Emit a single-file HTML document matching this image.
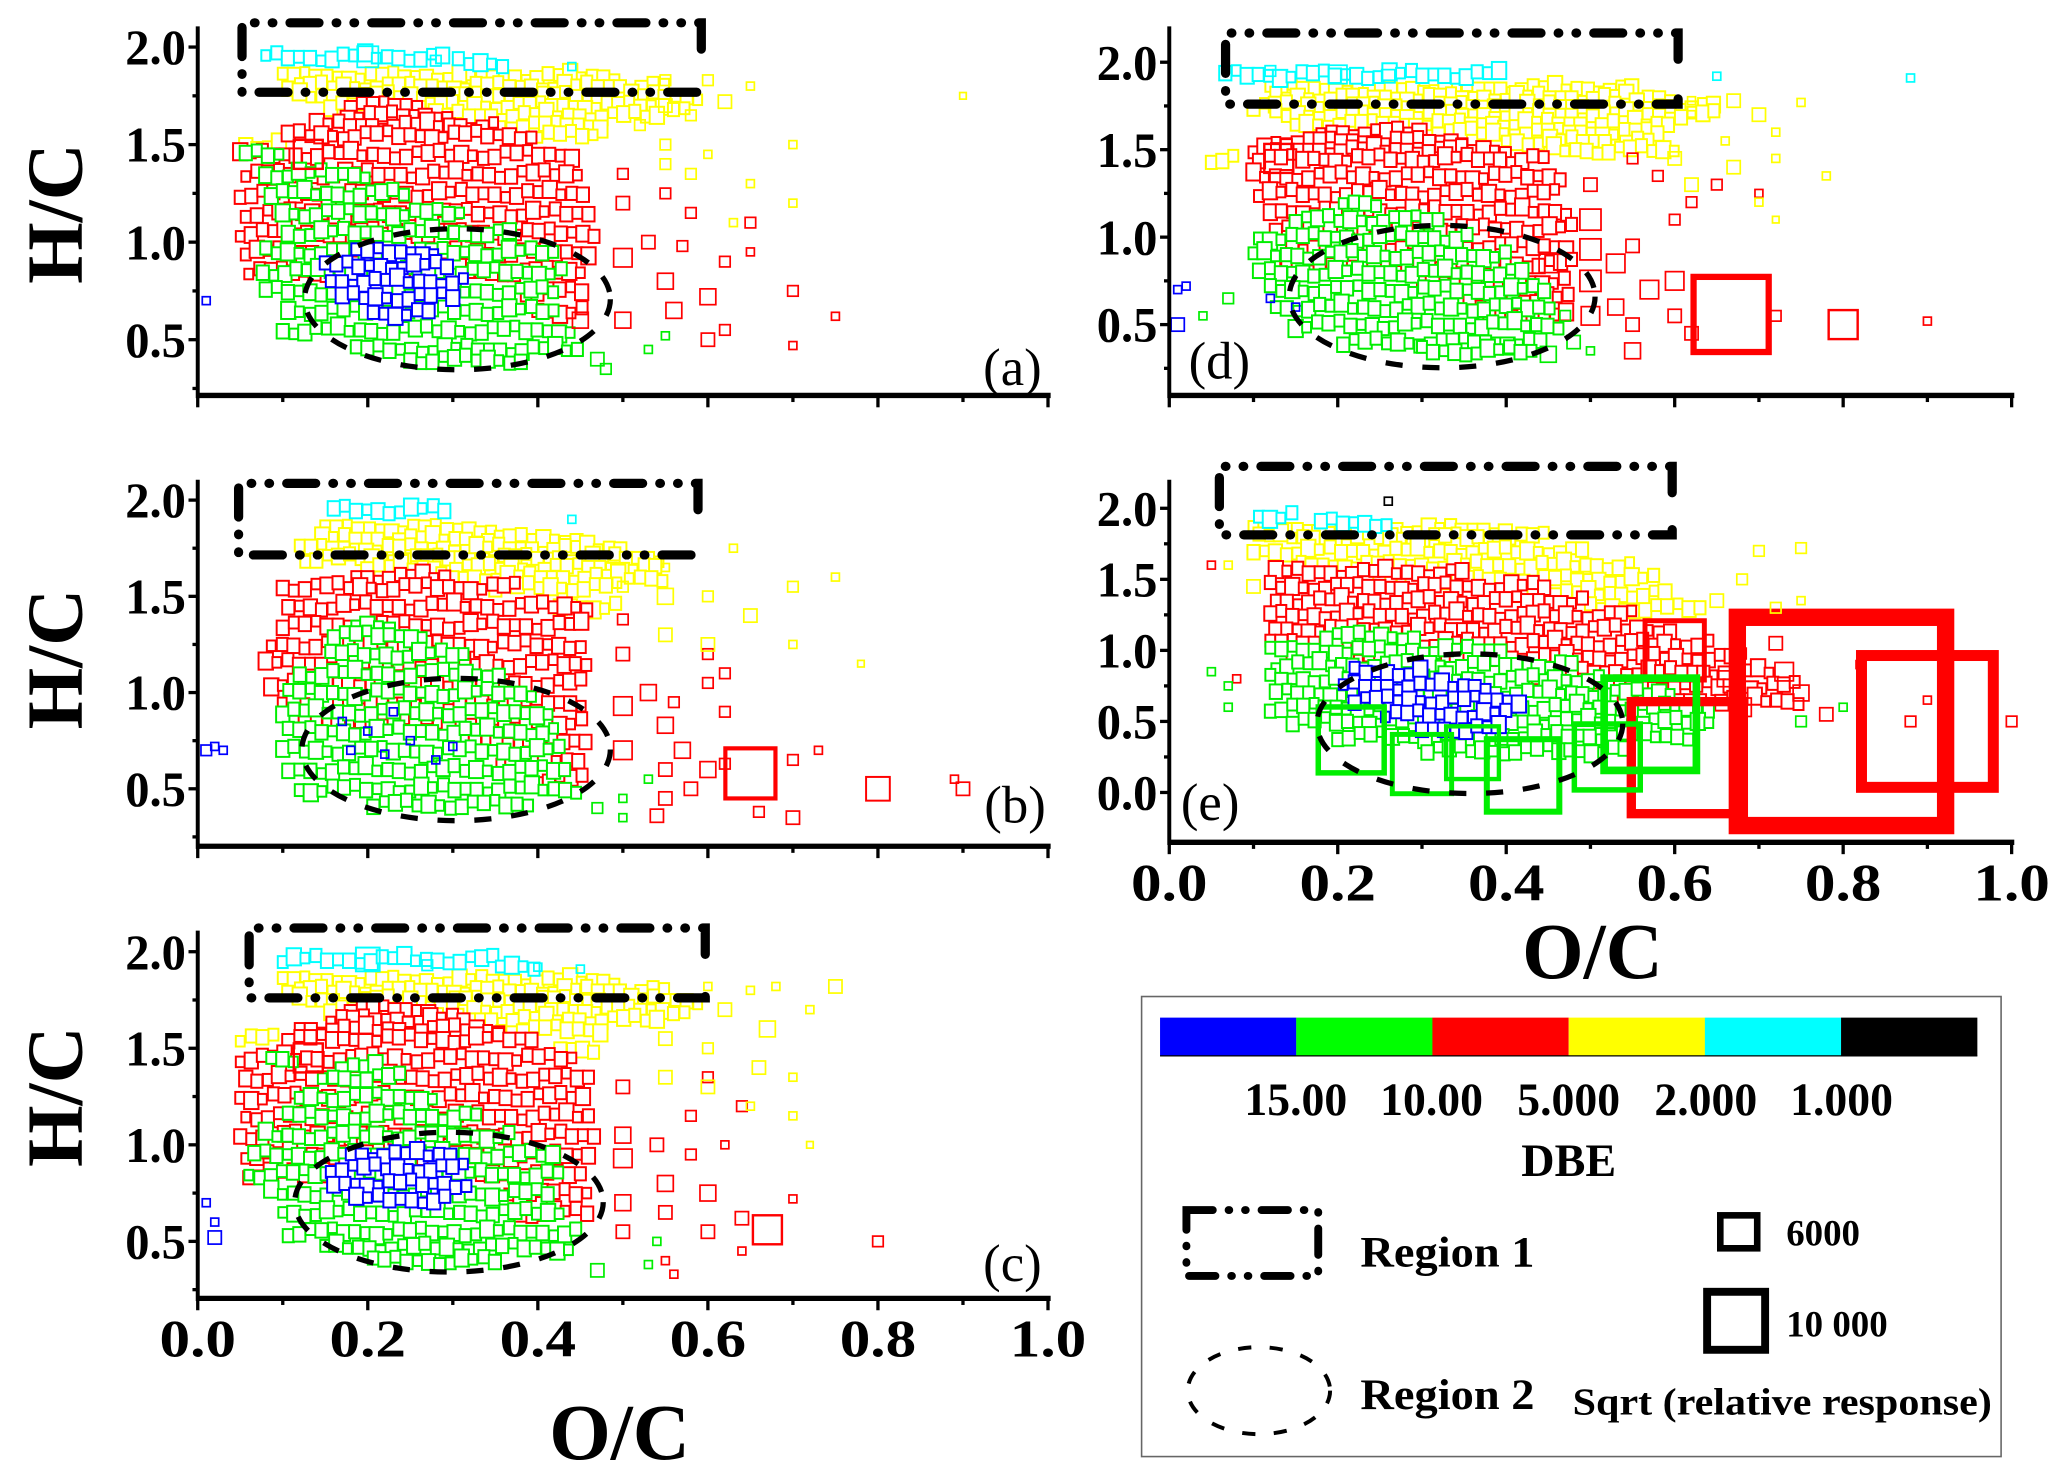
<!DOCTYPE html>
<html><head><meta charset="utf-8"><style>
html,body{margin:0;padding:0;background:#fff;width:2067px;height:1477px;overflow:hidden}
svg{display:block}
text{font-family:"Liberation Serif",serif;font-weight:bold;fill:#000}
</style></head><body>
<svg id="fig" width="2067" height="1477" viewBox="0 0 1568 1120.5" preserveAspectRatio="none" xmlns="http://www.w3.org/2000/svg">
<g id="legend">
<rect x="866" y="756" width="652" height="349" fill="#fff" stroke="#666" stroke-width="1.2"/>
<rect x="880" y="772" width="103.4" height="29" fill="#0000ff"/>
<rect x="983.3" y="772" width="103.4" height="29" fill="#00ff00"/>
<rect x="1086.6" y="772" width="103.4" height="29" fill="#ff0000"/>
<rect x="1190" y="772" width="103.4" height="29" fill="#ffff00"/>
<rect x="1293.3" y="772" width="103.4" height="29" fill="#00ffff"/>
<rect x="1396.6" y="772" width="103.4" height="29" fill="#000"/>
<line x1="880" y1="801" x2="1500" y2="801" stroke="#000" stroke-width="1"/>
<g font-size="35" text-anchor="middle">
<text x="983" y="846" textLength="78" lengthAdjust="spacingAndGlyphs">15.00</text>
<text x="1086" y="846" textLength="78" lengthAdjust="spacingAndGlyphs">10.00</text>
<text x="1190" y="846" textLength="78" lengthAdjust="spacingAndGlyphs">5.000</text>
<text x="1294" y="846" textLength="78" lengthAdjust="spacingAndGlyphs">2.000</text>
<text x="1397" y="846" textLength="78" lengthAdjust="spacingAndGlyphs">1.000</text>
<text x="1190" y="892">DBE</text>
</g>
<rect x="900" y="918" width="100" height="50" fill="none" stroke="#000" stroke-width="6" stroke-linecap="round" stroke-dasharray="20 12 0.5 12 0.5 12"/>
<text x="1032" y="961" font-size="33" textLength="132" lengthAdjust="spacingAndGlyphs">Region 1</text>
<ellipse cx="955" cy="1055" rx="54" ry="33" fill="none" stroke="#000" stroke-width="3" stroke-dasharray="10 14"/>
<text x="1032" y="1069" font-size="33" textLength="132" lengthAdjust="spacingAndGlyphs">Region 2</text>
<rect x="1305" y="922" width="28" height="25" fill="none" stroke="#000" stroke-width="5"/>
<text x="1355" y="945" font-size="28">6000</text>
<rect x="1295" y="980" width="44" height="44" fill="none" stroke="#000" stroke-width="6"/>
<text x="1355" y="1014" font-size="28">10 000</text>
<text x="1193" y="1073" font-size="29" textLength="318" lengthAdjust="spacingAndGlyphs">Sqrt (relative  response)</text>
</g>
<text font-size="60" text-anchor="middle" transform="translate(62,162) rotate(-90)">H/C</text>
<text font-size="60" text-anchor="middle" transform="translate(62,500) rotate(-90)">H/C</text>
<text font-size="60" text-anchor="middle" transform="translate(62,832) rotate(-90)">H/C</text>
<text font-size="60" text-anchor="middle" x="470" y="1107">O/C</text>
<text font-size="60" text-anchor="middle" x="1208" y="742">O/C</text>
</svg>
<script>
// Cluster rows: [H/C, O/C start, O/C end, DBE class]  classes: 0 blue,1 green,2 red,3 yellow,4 cyan,5 black
const rowsA=[[1.85,0.1,0.5,3],[1.8,0.1,0.55,3],[1.75,0.12,0.6,3],[1.7,0.15,0.58,3],[1.65,0.28,0.55,3],[1.6,0.35,0.48,3],[1.55,0.4,0.47,3],[1.5,0.05,0.1,3],
[1.95,0.08,0.3,4],[1.92,0.3,0.36,4],
[1.7,0.18,0.26,2],[1.65,0.17,0.3,2],[1.6,0.14,0.35,2],[1.55,0.1,0.4,2],[1.45,0.05,0.45,2],[1.35,0.05,0.45,2],[1.25,0.05,0.46,2],[1.15,0.05,0.46,2],[1.05,0.05,0.47,2],[0.95,0.05,0.47,2],[0.85,0.06,0.46,2],[0.75,0.38,0.46,2],[0.65,0.4,0.46,2],
[1.45,0.05,0.1,1],[1.35,0.08,0.2,1],[1.25,0.08,0.25,1],[1.15,0.1,0.32,1],[1.05,0.1,0.37,1],[0.95,0.08,0.42,1],[0.85,0.07,0.43,1],[0.75,0.08,0.42,1],[0.65,0.1,0.43,1],[0.55,0.1,0.45,1],[0.45,0.18,0.45,1],[0.4,0.25,0.38,1],
[0.95,0.18,0.28,0],[0.88,0.15,0.3,0],[0.8,0.15,0.32,0],[0.72,0.17,0.3,0],[0.64,0.2,0.28,0]];
const rowsB=[[1.85,0.15,0.35,3],[1.8,0.14,0.45,3],[1.75,0.12,0.5,3],[1.7,0.12,0.55,3],[1.65,0.2,0.55,3],[1.6,0.28,0.55,3],[1.55,0.35,0.5,3],[1.45,0.42,0.5,3],
[1.95,0.16,0.3,4],
[1.6,0.18,0.3,2],[1.55,0.1,0.38,2],[1.45,0.1,0.46,2],[1.35,0.1,0.46,2],[1.25,0.08,0.46,2],[1.15,0.08,0.46,2],[1.05,0.08,0.46,2],[0.95,0.1,0.46,2],[0.85,0.12,0.46,2],[0.75,0.3,0.46,2],[0.65,0.35,0.46,2],[0.55,0.4,0.46,2],
[1.35,0.18,0.23,1],[1.3,0.16,0.27,1],[1.2,0.15,0.32,1],[1.1,0.12,0.36,1],[1.0,0.1,0.4,1],[0.9,0.1,0.42,1],[0.8,0.1,0.42,1],[0.7,0.1,0.43,1],[0.6,0.1,0.44,1],[0.5,0.12,0.45,1],[0.42,0.2,0.4,1]];
const rowsC=[[1.85,0.1,0.5,3],[1.8,0.1,0.55,3],[1.75,0.12,0.6,3],[1.7,0.15,0.58,3],[1.65,0.28,0.55,3],[1.6,0.35,0.48,3],[1.55,0.05,0.1,3],[1.5,0.42,0.47,3],
[1.96,0.1,0.35,4],[1.93,0.35,0.4,4],
[1.7,0.18,0.28,2],[1.65,0.15,0.32,2],[1.6,0.12,0.36,2],[1.55,0.1,0.4,2],[1.45,0.05,0.45,2],[1.35,0.05,0.46,2],[1.25,0.05,0.46,2],[1.15,0.05,0.46,2],[1.05,0.05,0.47,2],[0.95,0.05,0.47,2],[0.85,0.06,0.46,2],[0.75,0.36,0.46,2],[0.65,0.38,0.46,2],
[1.45,0.08,0.12,1],[1.4,0.17,0.22,1],[1.35,0.14,0.24,1],[1.25,0.12,0.28,1],[1.15,0.1,0.33,1],[1.05,0.08,0.37,1],[0.95,0.06,0.42,1],[0.85,0.06,0.43,1],[0.75,0.08,0.42,1],[0.65,0.1,0.43,1],[0.55,0.1,0.45,1],[0.47,0.15,0.44,1],[0.4,0.2,0.36,1],
[0.95,0.18,0.3,0],[0.88,0.15,0.32,0],[0.8,0.16,0.32,0],[0.72,0.18,0.3,0]];
const rowsD=[[1.85,0.12,0.55,3],[1.8,0.12,0.6,3],[1.75,0.1,0.65,3],[1.7,0.12,0.65,3],[1.65,0.15,0.6,3],[1.6,0.3,0.58,3],[1.55,0.4,0.58,3],[1.5,0.45,0.6,3],[1.45,0.05,0.08,3],
[1.93,0.06,0.4,4],
[1.6,0.18,0.3,2],[1.55,0.12,0.35,2],[1.5,0.1,0.4,2],[1.45,0.1,0.45,2],[1.35,0.1,0.47,2],[1.25,0.1,0.47,2],[1.15,0.12,0.48,2],[1.05,0.12,0.48,2],[0.95,0.12,0.48,2],[0.85,0.12,0.48,2],[0.75,0.3,0.48,2],[0.65,0.35,0.48,2],[0.55,0.38,0.48,2],
[1.2,0.2,0.25,1],[1.1,0.15,0.32,1],[1.0,0.1,0.36,1],[0.9,0.1,0.4,1],[0.8,0.1,0.43,1],[0.7,0.12,0.45,1],[0.6,0.12,0.46,1],[0.5,0.15,0.47,1],[0.4,0.2,0.45,1],[0.35,0.3,0.43,1]];
const rowsE=[[1.85,0.1,0.4,3],[1.8,0.1,0.45,3],[1.7,0.1,0.5,3],[1.6,0.15,0.55,3],[1.5,0.25,0.58,3],[1.4,0.4,0.6,3],[1.3,0.5,0.63,3],
[1.95,0.1,0.15,4],[1.9,0.18,0.27,4],
[1.55,0.12,0.35,2],[1.45,0.12,0.45,2],[1.35,0.12,0.5,2],[1.25,0.12,0.55,2],[1.15,0.12,0.6,2],[1.05,0.12,0.65,2],[0.95,0.14,0.68,2],[0.85,0.4,0.72,2],[0.75,0.45,0.75,2],[0.65,0.5,0.75,2],
[1.1,0.18,0.3,1],[1.0,0.12,0.4,1],[0.9,0.12,0.48,1],[0.8,0.12,0.52,1],[0.7,0.12,0.6,1],[0.6,0.12,0.65,1],[0.5,0.14,0.65,1],[0.4,0.2,0.62,1],[0.3,0.3,0.55,1],
[0.85,0.22,0.3,0],[0.75,0.2,0.38,0],[0.65,0.22,0.42,0],[0.55,0.25,0.4,0],[0.45,0.3,0.4,0]];
// Individual formulas: [O/C, H/C, sqrt response (px), DBE class]
const ptsA=[[0.55,1.83,8,3],[0.6,1.83,8,3],[0.65,1.8,6,3],[0.9,1.75,5,3],[0.62,1.72,10,3],[0.55,1.7,10,3],[0.58,1.65,8,3],[0.52,1.6,8,3],[0.55,1.5,8,3],[0.6,1.45,6,3],[0.58,1.35,8,3],[0.65,1.3,6,3],[0.7,1.5,6,3],[0.7,1.2,6,3],[0.63,1.1,6,3],[0.55,1.4,8,3],
[0.13,1.45,22,2],[0.5,0.92,14,2],[0.5,0.6,12,2],[0.5,1.2,10,2],[0.5,1.35,8,2],[0.53,1.0,10,2],[0.55,0.8,12,2],[0.56,0.65,12,2],[0.6,0.72,12,2],[0.6,0.5,10,2],[0.62,0.9,8,2],[0.65,1.1,8,2],[0.7,0.75,8,2],[0.75,0.62,6,2],[0.7,0.47,6,2],[0.58,1.15,8,2],[0.62,0.55,8,2],[0.65,0.95,6,2],[0.57,0.98,8,2],[0.55,1.25,8,2],[0.45,0.6,12,2],
[0.47,0.4,10,1],[0.48,0.35,8,1],[0.53,0.45,6,1],[0.55,0.52,6,1],
[0.01,0.7,6,0],[0.2,1.95,16,4],[0.28,1.93,8,4],[0.44,1.9,6,4]];
const ptsB=[[0.01,0.7,8,0],[0.02,0.72,6,0],[0.03,0.7,6,0],[0.17,0.85,6,0],[0.2,0.8,6,0],[0.25,0.75,6,0],[0.22,0.68,6,0],[0.28,0.65,6,0],[0.3,0.72,6,0],[0.18,0.7,6,0],[0.23,0.9,6,0],
[0.5,0.93,14,2],[0.5,0.7,14,2],[0.5,1.2,10,2],[0.5,1.38,8,2],[0.53,1.0,12,2],[0.55,0.83,12,2],[0.57,0.7,12,2],[0.6,0.6,12,2],[0.65,0.58,38,2],[0.7,0.65,8,2],[0.8,0.5,18,2],[0.9,0.5,10,2],[0.55,0.45,10,2],[0.55,0.6,10,2],[0.58,0.5,10,2],[0.62,0.63,8,2],[0.7,0.35,10,2],[0.66,0.38,8,2],[0.54,0.36,10,2],[0.6,1.05,8,2],[0.62,1.1,8,2],[0.62,0.9,8,2],[0.73,0.7,6,2],[0.89,0.55,6,2],[0.56,0.95,8,2],[0.6,1.2,8,2],
[0.5,1.55,8,3],[0.55,1.5,12,3],[0.6,1.5,8,3],[0.7,1.55,8,3],[0.55,1.3,10,3],[0.6,1.25,10,3],[0.65,1.4,10,3],[0.7,1.25,6,3],[0.78,1.15,5,3],[0.75,1.6,6,3],[0.63,1.75,6,3],[0.55,1.65,6,3],
[0.5,0.45,6,1],[0.47,0.4,8,1],[0.5,0.35,6,1],[0.53,0.55,6,1],[0.44,1.9,6,4]];
const ptsC=[[0.13,1.45,22,2],[0.5,0.93,14,2],[0.5,1.05,12,2],[0.5,0.7,12,2],[0.5,0.55,10,2],[0.5,1.3,10,2],[0.54,1.0,10,2],[0.55,0.8,12,2],[0.55,0.65,10,2],[0.6,0.75,12,2],[0.6,0.55,10,2],[0.64,0.62,10,2],[0.67,0.56,22,2],[0.8,0.5,8,2],[0.7,0.72,6,2],[0.58,1.15,8,2],[0.6,1.35,8,2],[0.64,1.2,8,2],[0.55,0.4,6,2],[0.64,0.45,6,2],[0.56,0.33,6,2],[0.58,0.95,8,2],[0.62,1.0,6,2],
[0.01,0.7,6,0],[0.02,0.6,6,0],[0.02,0.52,10,0],
[0.6,1.82,6,3],[0.65,1.8,6,3],[0.68,1.82,6,3],[0.75,1.82,10,3],[0.72,1.7,6,3],[0.62,1.7,10,3],[0.67,1.6,12,3],[0.55,1.55,10,3],[0.6,1.5,8,3],[0.66,1.4,10,3],[0.7,1.35,6,3],[0.55,1.35,10,3],[0.6,1.3,10,3],[0.65,1.2,6,3],[0.7,1.15,6,3],[0.72,1.0,5,3],
[0.47,0.35,10,1],[0.53,0.38,6,1],[0.54,0.5,6,1],
[0.2,1.96,18,4],[0.27,1.93,8,4],[0.4,1.92,6,4],[0.45,1.91,6,4]];
const ptsD=[[0.01,0.7,6,0],[0.02,0.72,6,0],[0.01,0.5,10,0],[0.12,0.65,6,0],[0.15,0.6,6,0],
[0.13,1.45,22,2],[0.5,1.1,16,2],[0.5,0.93,16,2],[0.5,0.75,16,2],[0.5,0.55,14,2],[0.5,1.3,10,2],[0.53,0.85,14,2],[0.53,0.6,12,2],[0.55,0.95,10,2],[0.57,0.7,14,2],[0.6,0.75,14,2],[0.6,0.55,10,2],[0.667,0.558,57,2],[0.8,0.5,22,2],[0.9,0.52,6,2],[0.72,0.55,8,2],[0.55,0.35,12,2],[0.6,1.1,8,2],[0.62,1.2,8,2],[0.65,1.3,8,2],[0.58,1.35,8,2],[0.7,1.25,6,2],[0.55,1.45,8,2],[0.55,0.5,10,2],[0.62,0.45,10,2],[0.45,0.85,14,2],
[0.62,1.78,6,3],[0.67,1.78,10,3],[0.75,1.77,6,3],[0.62,1.7,6,3],[0.7,1.7,10,3],[0.72,1.6,6,3],[0.66,1.55,6,3],[0.6,1.45,10,3],[0.67,1.4,10,3],[0.72,1.45,6,3],[0.78,1.35,6,3],[0.62,1.3,10,3],[0.7,1.2,6,3],[0.72,1.1,5,3],
[0.2,1.93,14,4],[0.12,1.95,8,4],[0.26,1.92,10,4],[0.65,1.92,6,4],[0.88,1.91,6,4],
[0.48,0.4,10,1],[0.45,0.33,12,1],[0.5,0.35,6,1],[0.47,0.55,8,1],[0.04,0.55,6,1],[0.07,0.65,8,1]];
const ptsE=[[0.26,2.05,6,5],
[0.798,0.50,158,2],[0.90,0.50,100,2],[0.615,0.245,85,2],[0.6,1.0,45,2],
[0.216,0.37,50,1],[0.3,0.2,45,1],[0.42,0.12,55,1],[0.52,0.25,50,1],[0.571,0.48,70,1],[0.36,0.28,40,1],
[0.72,1.05,10,2],[0.73,0.85,14,2],[0.75,0.7,12,2],[0.78,0.55,10,2],[0.88,0.5,8,2],[0.9,0.65,6,2],[0.82,0.9,6,2],[1.0,0.5,8,2],[0.05,1.6,6,2],[0.08,0.8,6,2],[0.68,0.6,14,2],[0.66,0.8,12,2],
[0.07,1.6,6,3],[0.1,1.45,10,3],[0.7,1.7,8,3],[0.75,1.72,8,3],[0.68,1.5,8,3],[0.65,1.35,10,3],[0.72,1.3,8,3],[0.75,1.35,6,3],
[0.05,0.85,6,1],[0.07,0.75,6,1],[0.07,0.6,6,1],[0.8,0.6,6,1],[0.75,0.5,8,1]];
const xTickLabels=["0.0","0.2","0.4","0.6","0.8","1.0"];
const yTicksABCD=[0.5,1.0,1.5,2.0];
const yTicksE=[0.0,0.5,1.0,1.5,2.0];
</script>
<script>
const NS="http://www.w3.org/2000/svg";
const svg=document.getElementById('fig');
const legend=document.getElementById('legend');
const COLORS=["#0000ff","#00ee00","#ff0000","#ffff00","#00ffff","#000000"];
const SIZEPAT=[9,11,8,12,10,9,13,8,10,11];
const JIT=[-2,1,3,-1,0,2,-3,1];
const panels=[
 {id:'a',x0:150,x1:795,y2:35.7,ppu:148,top:20,bot:300,yt:yTicksABCD,rows:rowsA,pts:ptsA,lab:[768,292],box:[183.6,17.3,532,70],ell:[347,227,116,53.5],xlab:false},
 {id:'b',x0:150,x1:795,y2:379.4,ppu:146,top:364,bot:642,yt:yTicksABCD,rows:rowsB,pts:ptsB,lab:[770,624],box:[181,366.7,529.5,421],ell:[346,568.6,117,54],xlab:false},
 {id:'c',x0:150,x1:795,y2:722,ppu:146.5,top:706,bot:985,yt:yTicksABCD,rows:rowsC,pts:ptsC,lab:[768,972],box:[189,704,535,757],ell:[340.6,912,117,53],xlab:true},
 {id:'d',x0:887,x1:1526,y2:47.2,ppu:132.7,top:20,bot:300,yt:yTicksABCD,rows:rowsD,pts:ptsD,lab:[925,287],box:[929.7,25,1273,79],ell:[1094,225,116,54],xlab:false},
 {id:'e',x0:887,x1:1526,y2:385.6,ppu:107.8,top:364,bot:639,yt:yTicksE,rows:rowsE,pts:ptsE,lab:[918,622],box:[925,353.8,1268.5,405.8],ell:[1115,549,116,53],xlab:true}
];
function mk(tag,attrs,parent){const e=document.createElementNS(NS,tag);for(const k in attrs)e.setAttribute(k,attrs[k]);(parent||svg).appendChild(e);return e;}
panels.forEach(p=>{
 const g=mk('g',{});
 
 
 svg.insertBefore(g,legend);
 const X=oc=>p.x0+oc*(p.x1-p.x0);
 const Y=hc=>p.y2+(2-hc)*p.ppu;
 const marks=mk('g',{},g);
 
 
 const step=0.013;
 let k=0;
 p.rows.forEach((r,ri)=>{
  const off=(ri%2)*step/2;
  for(let oc=r[1]+off;oc<=r[2]+1e-9;oc+=step){
   const s=SIZEPAT[k%SIZEPAT.length];const j=JIT[(k*3)%JIT.length];k++;
   const m=mk('rect',{x:X(oc)-s*0.42,y:Y(r[0])-s/2+j,width:s*0.84,height:s,fill:'#fff',stroke:COLORS[r[3]],'stroke-width':1.5},marks);
   
   
  }
 });
 p.pts.forEach(pt=>{
  const s=pt[2];const sw=Math.max(1.3,s/12);
  const m=mk('rect',{x:X(pt[0])-s/2,y:Y(pt[1])-s/2,width:s,height:s,fill:'none',stroke:COLORS[pt[3]],'stroke-width':sw},marks);
  
  
 });
 const ax=mk('line',{x1:p.x0,y1:p.bot,x2:p.x1+2,y2:p.bot,stroke:'#000','stroke-width':4},g);
 
 
 const ay=mk('line',{x1:p.x0,y1:p.top,x2:p.x0,y2:p.bot+2,stroke:'#000','stroke-width':3},g);
 
 
 for(let i=0;i<=10;i++){
  const x=X(i/10);const L=i%2?5:9;
  const t=mk('line',{x1:x,y1:p.bot,x2:x,y2:p.bot+L,stroke:'#000','stroke-width':2.5},g);
  
  
 }
 if(p.xlab){xTickLabels.forEach((lb,i)=>{
  const t=mk('text',{x:X(i/5),y:p.bot+44,'font-size':40,'text-anchor':'middle',textLength:58,lengthAdjust:'spacingAndGlyphs'},g);
  t.textContent=lb;
  
  
 });}
 for(let v=0;v<=2.0001;v+=0.25){
  const y=Y(v);if(y>p.bot-2||y<p.top)continue;
  const major=p.yt.some(t=>Math.abs(t-v)<1e-6);
  const t=mk('line',{x1:p.x0-(major?7:4),y1:y,x2:p.x0,y2:y,stroke:'#000','stroke-width':2.5},g);
  
  
 }
 p.yt.forEach(v=>{
  const t=mk('text',{x:p.x0-9,y:Y(v)+13,'font-size':38,'text-anchor':'end',textLength:46,lengthAdjust:'spacingAndGlyphs'},g);
  t.textContent=v.toFixed(1);
  
  
 });
 const lb=mk('text',{x:p.lab[0],y:p.lab[1],'font-size':40,'text-anchor':'middle',style:'font-weight:normal'},g);
 lb.textContent='('+p.id+')';
 
 
 const b=p.box;
 const r1=mk('path',{d:`M${b[2]},${b[1]+20} L${b[2]},${b[1]} L${b[0]},${b[1]} L${b[0]},${b[3]} L${b[2]},${b[3]} L${b[2]},${b[3]-4}`,fill:'none',stroke:'#000','stroke-width':7,'stroke-linecap':'round','stroke-dasharray':'22 13 0.5 13 0.5 13'},g);
 
 
 const e=p.ell;
 const r2=mk('ellipse',{cx:e[0],cy:e[1],rx:e[2],ry:e[3],fill:'none',stroke:'#000','stroke-width':4,'stroke-dasharray':'13 15'},g);
 
 
});
</script>
</body></html>
